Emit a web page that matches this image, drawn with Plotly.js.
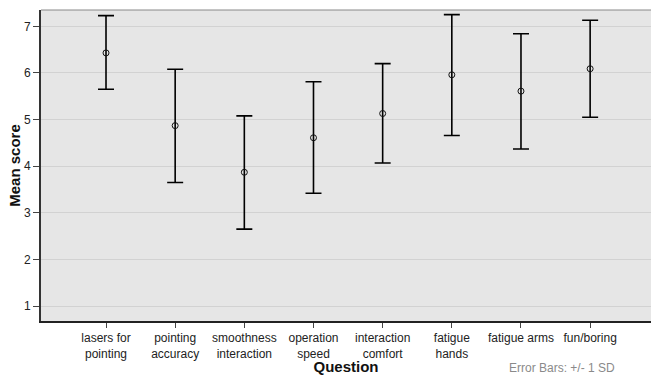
<!DOCTYPE html>
<html><head><meta charset="utf-8">
<script src="https://cdn.plot.ly/plotly-3.0.1.min.js"></script>
<style>html,body{margin:0;padding:0;background:#fff}</style>
</head><body><div id="chart" style="width:652px;height:375px"></div>
<script>
const categories = ["lasers for<br>pointing","pointing<br>accuracy","smoothness<br>interaction","operation<br>speed","interaction<br>comfort","fatigue<br>hands","fatigue arms","fun/boring"];
const meanScore = [6.43, 4.87, 3.87, 4.61, 5.13, 5.96, 5.61, 6.09];
const sdPlus    = [0.80, 1.21, 1.21, 1.20, 1.07, 1.29, 1.23, 1.04];
const sdMinus   = [0.78, 1.22, 1.22, 1.19, 1.06, 1.30, 1.24, 1.04];
const yTicks = [1,2,3,4,5,6,7];

const idx = categories.map((c,i)=>i);
const trace = {
  type:'scatter', mode:'markers', x: idx, y: meanScore,
  marker:{symbol:'circle-open', size:6, color:'#111', line:{width:1,color:'#111'}},
  error_y:{type:'data', symmetric:false, array:sdPlus, arrayminus:sdMinus, color:'#000', thickness:1.6, width:8},
  hoverinfo:'none', showlegend:false
};
const layout = {
  width:652, height:375,
  margin:{l:41, r:1, t:10, b:54},
  paper_bgcolor:'#fff', plot_bgcolor:'#e6e6e6',
  font:{family:'Liberation Sans, Arial, sans-serif', size:12, color:'#222'},
  xaxis:{
    range:[-0.94, 7.88], tickmode:'array', tickvals:idx, ticktext:categories,
    ticks:'outside', ticklen:5, tickcolor:'#444', tickwidth:1,
    showgrid:false, zeroline:false, showline:true, linecolor:'#222', linewidth:1.5,
    tickfont:{size:12, color:'#222'},
    title:{text:'<b>Question</b>', font:{size:15, color:'#111'}, standoff:2}
  },
  yaxis:{
    range:[0.68, 7.35], tickmode:'array', tickvals:yTicks,
    ticks:'outside', ticklen:6, tickcolor:'#444', tickwidth:1,
    showgrid:true, gridcolor:'#d2d2d2', gridwidth:1, zeroline:false,
    showline:true, linecolor:'#333', linewidth:2,
    tickfont:{size:12, color:'#222'},
    title:{text:'<b>Mean score</b>', font:{size:15, color:'#111'}, standoff:0}
  },
  shapes:[{type:'line', xref:'paper', yref:'paper', x0:0, x1:1, y0:1, y1:1, line:{color:'#888', width:1}}],
  annotations:[{xref:'paper', yref:'paper', x:1, y:0, yshift:-47, xshift:-34, xanchor:'right', yanchor:'middle',
    text:'Error Bars: +/- 1 SD', showarrow:false, font:{size:12, color:'#8a8a8a'}}]
};
Plotly.newPlot('chart',[trace],layout,{displayModeBar:false, staticPlot:true});
</script></body></html>
